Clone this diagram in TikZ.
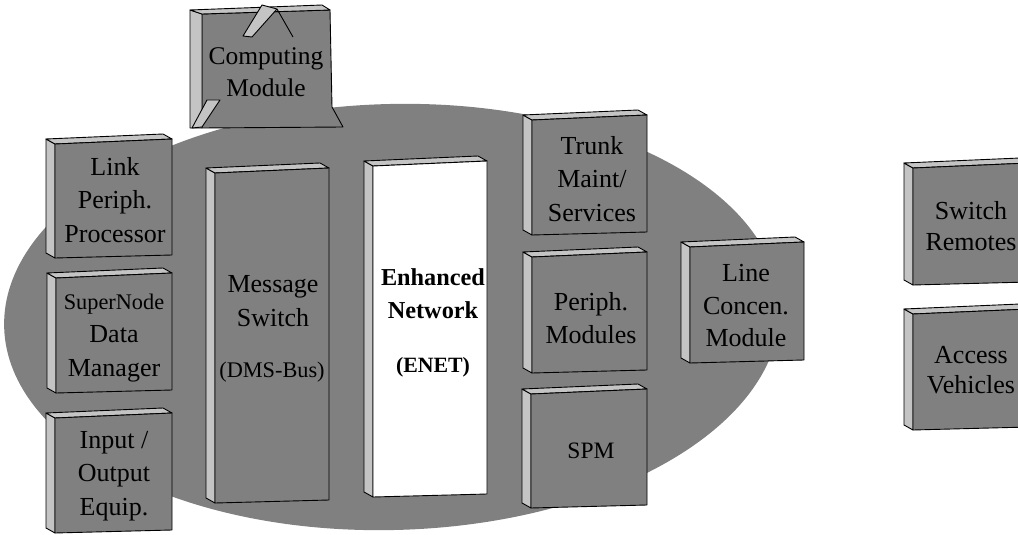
\documentclass[tikz,border=0pt]{standalone}
\usepackage{fontspec}
\setmainfont{Liberation Serif}
\definecolor{dkgray}{HTML}{808080}
\definecolor{lite}{HTML}{C4C4C4}
\tikzset{
  edge/.style={draw=black, line width=0.9pt, line join=round},
  lbl/.style={align=center, inner sep=0pt, font=\fontsize{26}{33.5}\selectfont},
  small/.style={align=center, inner sep=0pt, font=\fontsize{22.3}{33}\selectfont},
  boldlbl/.style={align=center, inner sep=0pt, font=\fontsize{24.3}{33}\selectfont\bfseries},
  boldsmall/.style={align=center, inner sep=0pt, font=\fontsize{21.8}{33}\selectfont\bfseries},
}
% x1 y1 x2 y2 fill  (front face, y downward)
\newcommand\slabbox[5]{%
  \filldraw[edge, fill=lite] (#1,#2) -- (#1-9,#2-5) -- (#1-9,#4-5) -- (#1,#4) -- cycle;
  \filldraw[edge, fill=lite] (#1,#2) -- (#1-9,#2-5) -- (#3-9,#2-10) -- (#3,#2-5) -- cycle;
  \filldraw[edge, fill=#5] (#1,#2) -- (#3,#2-5) -- (#3,#4-3) -- (#1,#4) -- cycle;
}
\begin{document}
\begin{tikzpicture}[x=1pt, y=-1pt]
\useasboundingbox (0,0) rectangle (1018,535);
\clip (0,0) rectangle (1018,535);
% big ellipse
\fill[dkgray, rotate around={1.5:(392,317)}] (392,317) ellipse [x radius=388, y radius=213];

% Computing module
\filldraw[edge, fill=dkgray] (202,14) -- (330,10) -- (332,107) -- (343,127) -- (202,128) -- cycle;
\filldraw[edge, fill=lite] (190,10) -- (202,14) -- (202,128) -- (190,128) -- cycle;
\filldraw[edge, fill=lite] (190,10) -- (322,5) -- (330,10) -- (202,14) -- cycle;
\filldraw[edge, fill=lite] (207,100) -- (220,100) -- (202,127) -- (192,128) -- cycle;
\filldraw[edge, fill=lite] (262,5) -- (277,9) -- (252,37) -- (243,36) -- cycle;
\draw[edge] (277,9) -- (293,37);
\node[lbl, font=\fontsize{25.5}{32}\selectfont] (comp) at (266,72) {Computing\\Module};

% left column
\slabbox{55}{144}{172}{258}{dkgray}
\node[lbl] (lpp) at (115,200) {Link\\Periph.\\Processor};
\slabbox{56}{278}{172}{393}{dkgray}
\node[lbl] (sdm) at (114,338) {{\fontsize{22.3}{33.5}\selectfont SuperNode}\\Data\\Manager};
\slabbox{55}{418}{172}{533}{dkgray}
\node[lbl] (ioe) at (114,476) {Input /\\Output\\Equip.};

% message switch
\slabbox{215}{173}{329}{503}{dkgray}
\node[lbl] (ms) at (273,301) {Message\\Switch};
\node[small] (dms) at (272,372) {(DMS-Bus)};

% ENET
\slabbox{373}{166}{487}{497}{white}
\node[boldlbl] (enet) at (433,294) {Enhanced\\Network};
\node[boldsmall] (enetab) at (433,367) {(ENET)};

% right column
\slabbox{532}{120}{647}{235}{dkgray}
\node[lbl] (tms) at (592,179) {Trunk\\Maint/\\Services};
\slabbox{532}{257}{647}{373}{dkgray}
\node[lbl] (pm) at (591,318) {Periph.\\Modules};
\slabbox{531}{394}{647}{508}{dkgray}
\node[lbl, font=\fontsize{23.5}{30}\selectfont] (spm) at (591,451) {SPM};
\slabbox{690}{247}{804}{363}{dkgray}
\node[lbl, font=\fontsize{26}{32.5}\selectfont] (lcm) at (746,306) {Line\\Concen.\\Module};

% far right
\slabbox{913}{168}{1029}{285}{dkgray}
\node[lbl, font=\fontsize{26}{31}\selectfont] (sr) at (971,226) {Switch\\Remotes};
\slabbox{913}{314}{1029}{430}{dkgray}
\node[lbl, font=\fontsize{26}{30.5}\selectfont] (av) at (971,370) {Access\\Vehicles};
\end{tikzpicture}
\end{document}
